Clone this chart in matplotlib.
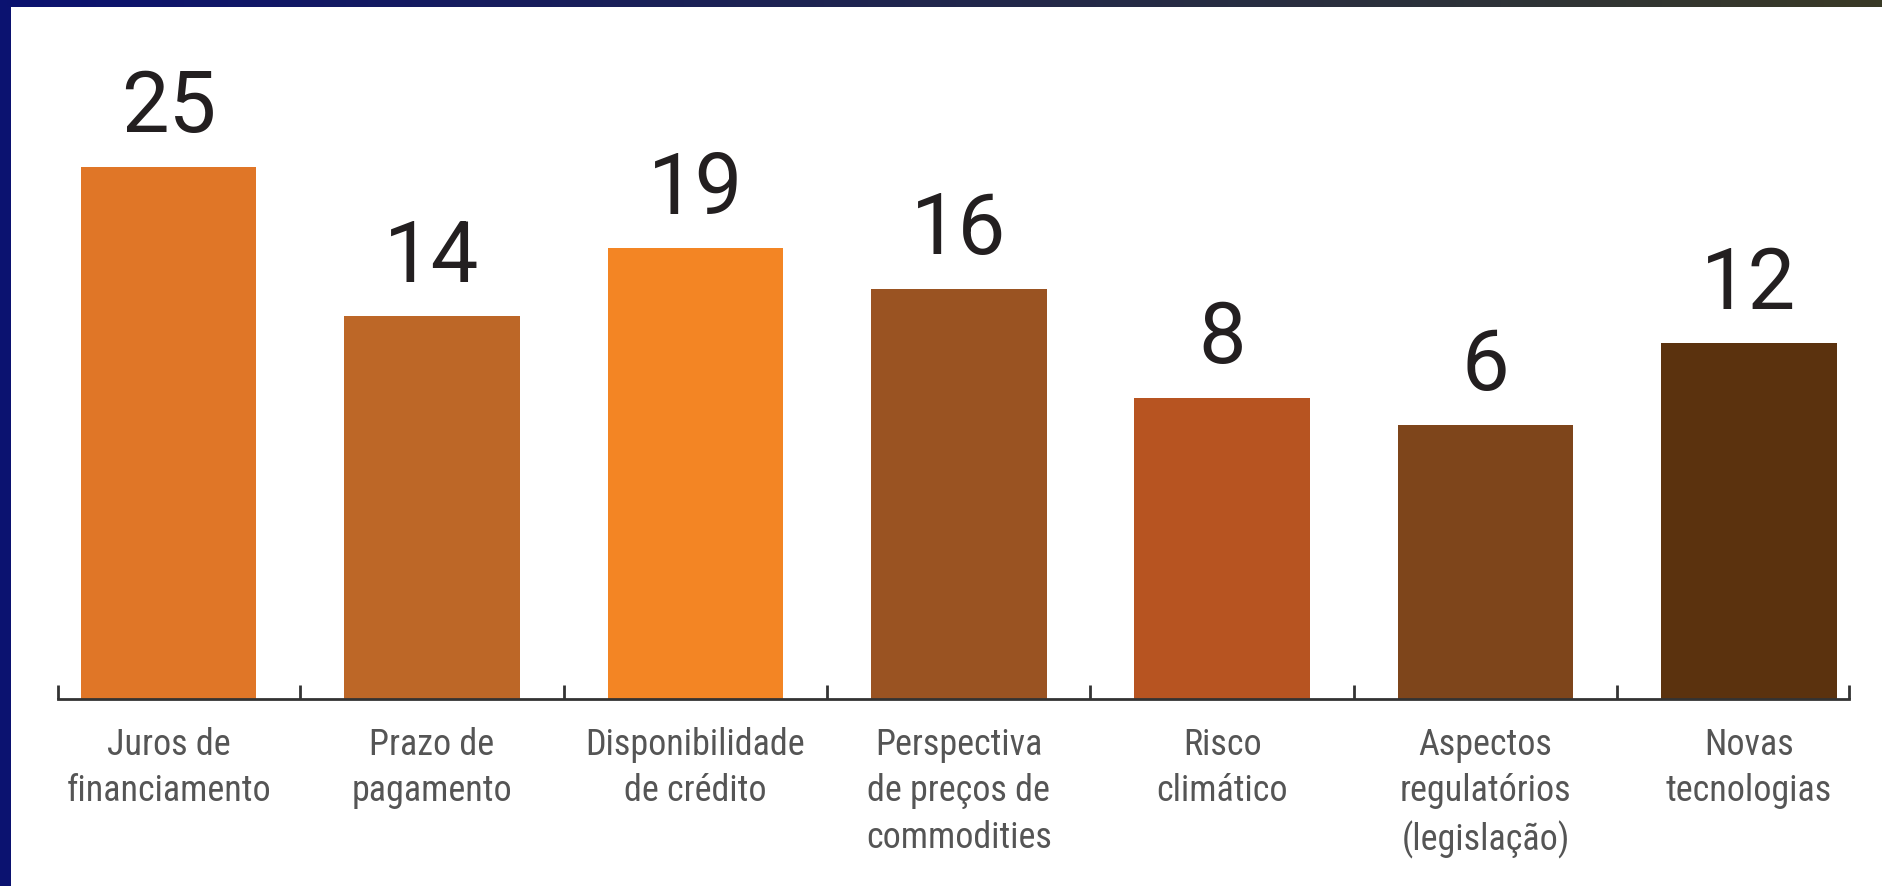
import matplotlib
matplotlib.use("Agg")
import matplotlib.pyplot as plt
import numpy as np
from matplotlib import font_manager

categories = ["Juros de\nfinanciamento", "Prazo de\npagamento", "Disponibilidade\nde crédito",
              "Perspectiva\nde preços de\ncommodities", "Risco\nclimático",
              "Aspectos\nregulatórios\n(legislação)", "Novas\ntecnologias"]
values = [25, 14, 19, 16, 8, 6, 12]
colors = ["#E07627", "#BD6727", "#F38524", "#9A5322", "#B75421", "#7E451B", "#5B320E"]

def pick(names):
    avail = {f.name for f in font_manager.fontManager.ttflist}
    for n in names:
        if n in avail:
            return n
    return "DejaVu Sans"

label_font = pick(["Liberation Sans Narrow", "Roboto Condensed", "DejaVu Sans Condensed", "Roboto"])
num_font = pick(["Roboto", "Inter", "DejaVu Sans"])

W, H = 1883, 886
fig = plt.figure(figsize=(W / 100, H / 100), dpi=100)
fig.patch.set_facecolor("white")

# decorative frame: left navy strip and top gradient strip
left = fig.add_axes([0, 0, 11 / W, 1])
left.set_axis_off()
left.add_patch(plt.Rectangle((0, 0), 1, 1, color="#0B1270", transform=left.transAxes))
top = fig.add_axes([0, 1 - 7 / H, 1, 7 / H])
top.set_axis_off()
grad = np.linspace(0, 1, 256)
c0 = np.array([0x0B, 0x12, 0x70]) / 255
c1 = np.array([0x2E, 0x33, 0x38]) / 255
c2 = np.array([0x3A, 0x3A, 0x26]) / 255
img = np.zeros((1, 256, 3))
for i, t in enumerate(grad):
    if t < 0.8:
        img[0, i] = c0 + (c1 - c0) * (t / 0.8)
    else:
        img[0, i] = c1 + (c2 - c1) * ((t - 0.8) / 0.2)
top.imshow(img, aspect="auto", extent=(0, 1, 0, 1))
top.set_xlim(0, 1)

ax = fig.add_axes([58 / W, 187 / H, (1849 - 58) / W, (699 - 30) / H])
y0 = -14.2
x = np.arange(len(values))
heights = [v - y0 for v in values]
bars = ax.bar(x, heights, bottom=y0, width=0.667, color=colors, zorder=2)
ax.set_xlim(-0.42, len(values) - 1 + 0.38)
ax.set_ylim(y0, 35.1)

for xi, v in zip(x, values):
    ax.annotate(str(v), (xi, v), xytext=(0, 25), textcoords="offset points",
                ha="center", va="baseline", fontsize=61, color="#231F20",
                family=num_font)

for s in ["top", "right", "left"]:
    ax.spines[s].set_visible(False)
ax.spines["bottom"].set_color("#333333")
ax.spines["bottom"].set_linewidth(2)
ax.set_yticks([])
ax.set_xticks(x)
ax.set_xticklabels(categories, fontsize=26, color="#555555", family=label_font,
                   linespacing=1.38)
ax.tick_params(axis="x", which="major", length=0, pad=20)
minor = [-0.42] + [i + 0.5 for i in range(len(values) - 1)] + [len(values) - 1 + 0.38]
ax.set_xticks(minor, minor=True)
ax.tick_params(axis="x", which="minor", direction="in", length=10, width=2, color="#333333")

fig.savefig("out.png", dpi=100, facecolor="white")
